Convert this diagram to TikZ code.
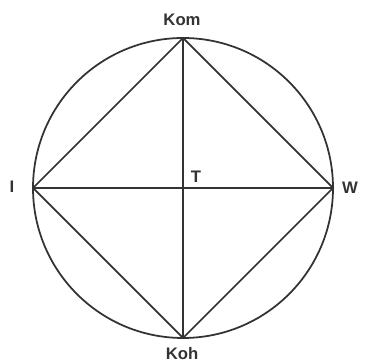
\documentclass[tikz,border=0pt]{standalone}
\usepackage{fontspec}
\setmainfont{Liberation Sans}
\begin{document}
\begin{tikzpicture}[line width=1pt, draw=black!80, every node/.style={font=\bfseries\fontsize{9.5}{11}\selectfont, text=black!80}]
\useasboundingbox (0,0) rectangle (7.3,7.28);
\path coordinate (T) at (3.66,3.52)
coordinate (top) at (3.66,6.52)
coordinate (bot) at (3.66,0.52)
coordinate (lft) at (0.66,3.52)
coordinate (rgt) at (6.66,3.52)
node (Kom) at (3.64,6.88) {Kom}
node (Koh) at (3.64,0.2) {Koh}
node (I) at (0.24,3.54) {I}
node (W) at (7.0,3.52) {W}
node (Tl) at (3.92,3.74) {T}
;
\draw (T) circle (3);
\draw   (top) -- (bot);
\draw   (lft) -- (rgt);
\draw   (top) -- (rgt) -- (bot) -- (lft) -- cycle;
\end{tikzpicture}
\end{document}
